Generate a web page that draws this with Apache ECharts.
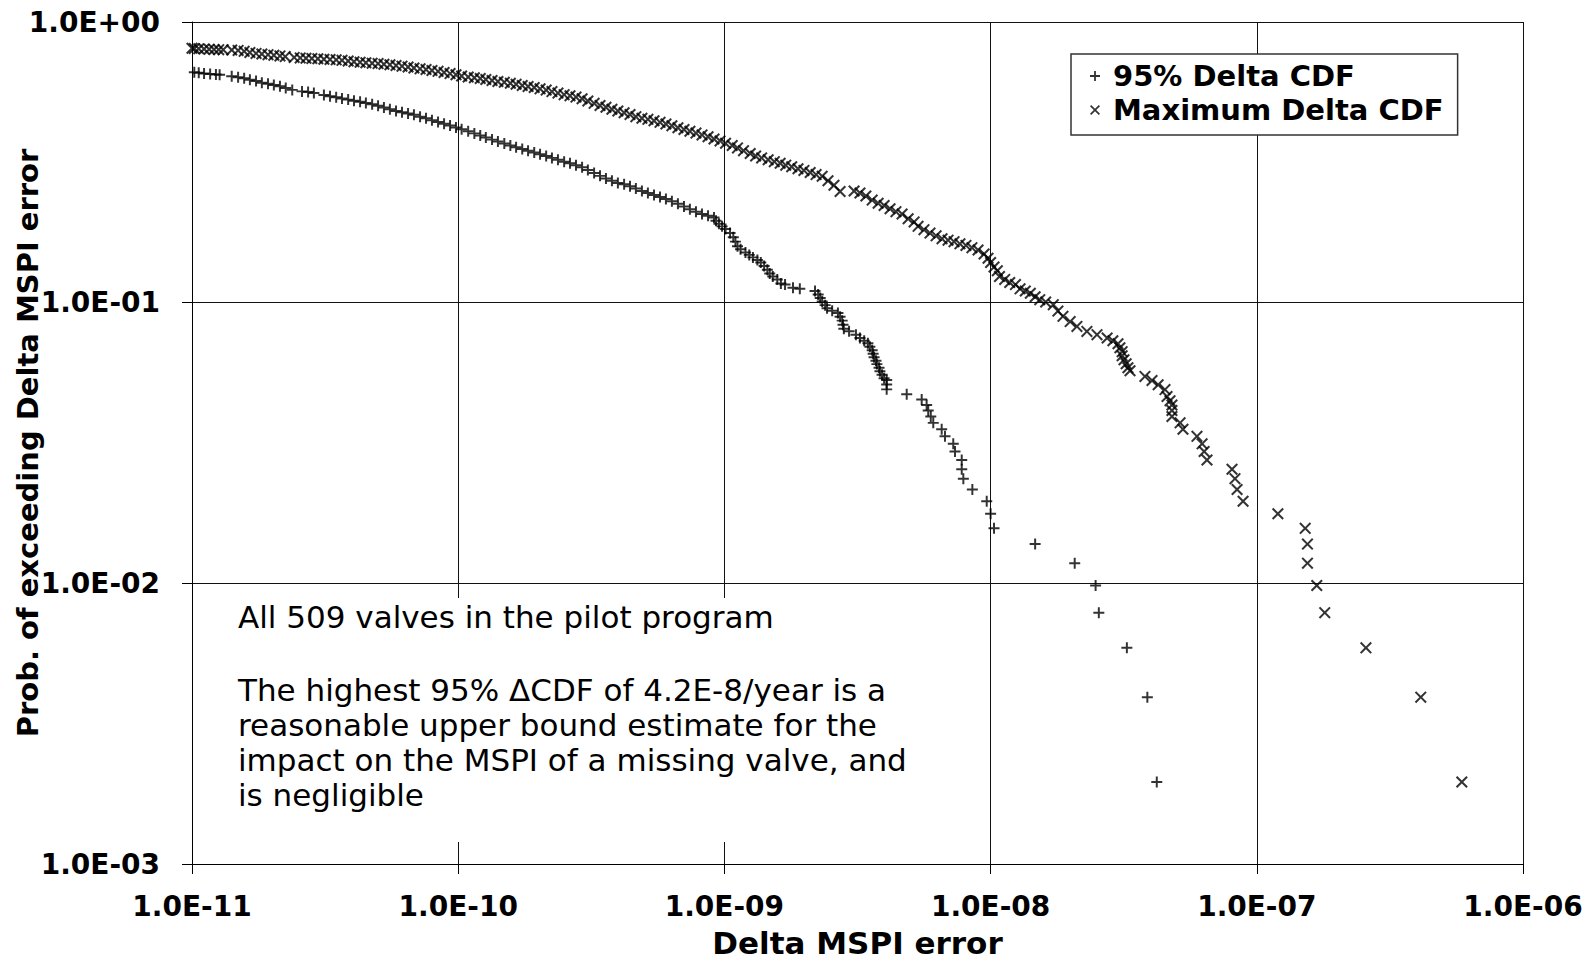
<!DOCTYPE html>
<html>
<head>
<meta charset="utf-8">
<script src="https://cdn.jsdelivr.net/npm/echarts@6/dist/echarts.min.js"></script>
<style>
html,body{margin:0;padding:0;background:#fff;}
#chart{width:1589px;height:961px;}
</style>
</head>
<body>
<div id="chart"></div>
<script>
// ---------- data ----------
const seriesNames = ['95% Delta CDF', 'Maximum Delta CDF'];

// [Delta MSPI error, probability of exceeding]
const delta95 = [
 [1.02e-11,0.662],[1.06e-11,0.660],[1.11e-11,0.656],[1.17e-11,0.653],[1.23e-11,0.650],[1.27e-11,0.649],
 [1.41e-11,0.641],[1.49e-11,0.636],[1.57e-11,0.630],[1.65e-11,0.623],[1.74e-11,0.616],[1.83e-11,0.608],
 [1.93e-11,0.602],[2.03e-11,0.596],[2.14e-11,0.590],[2.25e-11,0.582],[2.38e-11,0.573],
 [2.59e-11,0.566],[2.73e-11,0.563],[2.87e-11,0.559],
 [3.13e-11,0.549],[3.30e-11,0.544],[3.48e-11,0.539],[3.66e-11,0.534],[3.86e-11,0.529],
 [4.06e-11,0.524],[4.28e-11,0.520],[4.50e-11,0.515],[4.75e-11,0.509],[5.00e-11,0.503],[5.26e-11,0.496],
 [5.54e-11,0.489],[5.84e-11,0.482],[6.15e-11,0.477],[6.48e-11,0.472],[6.82e-11,0.467],[7.19e-11,0.460],
 [7.57e-11,0.454],[7.97e-11,0.447],[8.40e-11,0.440],[8.85e-11,0.434],[9.32e-11,0.428],[9.81e-11,0.421],
 [1.03e-10,0.415],[1.09e-10,0.408],[1.15e-10,0.401],[1.21e-10,0.394],[1.27e-10,0.388],[1.34e-10,0.381],
 [1.41e-10,0.375],[1.49e-10,0.369],[1.57e-10,0.363],[1.65e-10,0.358],[1.74e-10,0.353],[1.83e-10,0.348],
 [1.93e-10,0.343],[2.03e-10,0.338],[2.14e-10,0.333],[2.25e-10,0.328],[2.37e-10,0.323],[2.50e-10,0.318],
 [2.63e-10,0.314],[2.77e-10,0.309],[2.92e-10,0.304],[3.07e-10,0.297],[3.24e-10,0.290],[3.41e-10,0.283],
 [3.59e-10,0.277],[3.78e-10,0.272],[3.98e-10,0.267],[4.20e-10,0.264],[4.42e-10,0.260],[4.65e-10,0.255],
 [4.90e-10,0.250],[5.16e-10,0.246],[5.44e-10,0.242],[5.73e-10,0.238],[6.03e-10,0.234],[6.35e-10,0.230],
 [6.69e-10,0.225],[7.05e-10,0.220],[7.42e-10,0.215],[7.82e-10,0.211],[8.24e-10,0.207],[8.68e-10,0.204],
 [9.14e-10,0.201],
 [9.30e-10,0.196],[9.54e-10,0.191],[9.80e-10,0.187],[1.01e-9,0.183],[1.05e-9,0.177],[1.08e-9,0.171],
 [1.10e-9,0.165],[1.12e-9,0.159],[1.15e-9,0.155],[1.20e-9,0.151],[1.24e-9,0.148],[1.28e-9,0.145],
 [1.33e-9,0.142],[1.37e-9,0.139],[1.41e-9,0.135],[1.45e-9,0.131],[1.48e-9,0.127],[1.52e-9,0.124],
 [1.58e-9,0.121],[1.63e-9,0.117],[1.69e-9,0.116],[1.81e-9,0.113],[1.92e-9,0.112],[2.19e-9,0.110],
 [2.25e-9,0.107],[2.29e-9,0.104],[2.33e-9,0.101],[2.39e-9,0.098],[2.43e-9,0.0956],[2.54e-9,0.0936],
 [2.67e-9,0.0919],[2.72e-9,0.0891],[2.77e-9,0.0863],[2.79e-9,0.0835],[2.81e-9,0.0808],[2.94e-9,0.0791],
 [3.12e-9,0.0769],[3.23e-9,0.0748],[3.35e-9,0.0732],[3.46e-9,0.0717],[3.52e-9,0.0697],[3.59e-9,0.0677],
 [3.62e-9,0.0658],[3.65e-9,0.0639],[3.71e-9,0.0621],[3.74e-9,0.0604],[3.81e-9,0.0586],[3.84e-9,0.0570],
 [3.91e-9,0.0554],[3.98e-9,0.0538],
 [4.07e-9,0.0530],[4.07e-9,0.0511],[4.07e-9,0.0491],[4.84e-9,0.0472],[5.51e-9,0.0452],[5.75e-9,0.0432],
 [5.83e-9,0.0413],[5.96e-9,0.0393],[6.09e-9,0.0373],[6.55e-9,0.0354],[6.74e-9,0.0334],[7.24e-9,0.0314],
 [7.35e-9,0.0295],[7.79e-9,0.0275],[7.79e-9,0.0255],[7.90e-9,0.0236],[8.54e-9,0.0216],[9.67e-9,0.0196],
 [1.00e-8,0.0177],[1.03e-8,0.0157],[1.47e-8,0.0138],[2.07e-8,0.0118],[2.48e-8,0.00982],[2.55e-8,0.00786],
 [3.25e-8,0.00589],[3.88e-8,0.00393],[4.21e-8,0.00196]
];

const deltaMax = [
 [1.00e-11,0.806],[1.02e-11,0.805],[1.06e-11,0.803],[1.11e-11,0.801],[1.16e-11,0.800],[1.21e-11,0.798],
 [1.26e-11,0.797],[1.31e-11,0.796],
 [1.41e-11,0.795],[1.49e-11,0.792],[1.57e-11,0.786],[1.65e-11,0.779],[1.74e-11,0.773],[1.83e-11,0.769],
 [1.93e-11,0.765],[2.03e-11,0.761],[2.14e-11,0.757],[2.24e-11,0.753],
 [2.42e-11,0.748],[2.55e-11,0.745],[2.68e-11,0.743],
 [2.82e-11,0.741],[2.97e-11,0.740],[3.13e-11,0.737],[3.30e-11,0.735],[3.48e-11,0.733],[3.66e-11,0.730],
 [3.86e-11,0.726],[4.06e-11,0.722],[4.28e-11,0.719],[4.50e-11,0.716],[4.75e-11,0.713],[5.00e-11,0.711],
 [5.26e-11,0.707],[5.54e-11,0.704],[5.84e-11,0.700],[6.15e-11,0.696],[6.48e-11,0.691],[6.82e-11,0.686],
 [7.19e-11,0.681],[7.57e-11,0.677],[7.97e-11,0.672],[8.40e-11,0.667],[8.85e-11,0.661],[9.32e-11,0.655],
 [9.81e-11,0.649],[1.03e-10,0.642],[1.09e-10,0.637],[1.15e-10,0.633],[1.21e-10,0.629],[1.27e-10,0.624],
 [1.34e-10,0.619],[1.41e-10,0.614],[1.49e-10,0.610],[1.57e-10,0.605],[1.65e-10,0.600],[1.74e-10,0.594],
 [1.83e-10,0.589],[1.93e-10,0.584],[2.03e-10,0.578],[2.14e-10,0.572],[2.25e-10,0.565],[2.37e-10,0.558],
 [2.50e-10,0.551],[2.63e-10,0.546],[2.77e-10,0.540],[2.92e-10,0.533],[3.07e-10,0.523],[3.24e-10,0.513],
 [3.41e-10,0.504],[3.59e-10,0.497],[3.78e-10,0.489],[3.98e-10,0.482],[4.20e-10,0.475],[4.42e-10,0.468],
 [4.65e-10,0.460],[4.90e-10,0.454],[5.16e-10,0.450],[5.44e-10,0.445],[5.73e-10,0.439],[6.03e-10,0.433],
 [6.35e-10,0.427],[6.69e-10,0.420],[7.05e-10,0.414],[7.42e-10,0.408],[7.82e-10,0.402],[8.24e-10,0.396],
 [8.68e-10,0.390],[9.14e-10,0.383],[9.63e-10,0.377],[1.01e-9,0.370],[1.07e-9,0.363],[1.12e-9,0.356],
 [1.18e-9,0.348],[1.25e-9,0.340],[1.31e-9,0.333],[1.38e-9,0.328],[1.46e-9,0.323],[1.54e-9,0.318],
 [1.62e-9,0.314],[1.70e-9,0.309],[1.79e-9,0.305],[1.89e-9,0.300],[1.99e-9,0.296],[2.10e-9,0.291],
 [2.21e-9,0.286],[2.33e-9,0.282],[2.45e-9,0.272],[2.58e-9,0.262],[2.72e-9,0.249],
 [3.07e-9,0.250],[3.23e-9,0.246],[3.40e-9,0.240],[3.59e-9,0.232],[3.78e-9,0.226],[3.98e-9,0.222],
 [4.19e-9,0.216],[4.41e-9,0.211],[4.65e-9,0.207],[4.90e-9,0.199],[5.16e-9,0.194],[5.34e-9,0.187],
 [5.62e-9,0.182],[5.92e-9,0.177],[6.24e-9,0.173],[6.57e-9,0.169],[6.92e-9,0.167],[7.29e-9,0.165],
 [7.67e-9,0.162],[8.08e-9,0.160],[8.51e-9,0.157],[8.97e-9,0.154],[9.45e-9,0.149],[9.78e-9,0.144],
 [1.00e-8,0.139],[1.03e-8,0.134],[1.06e-8,0.130],[1.08e-8,0.124],[1.13e-8,0.121],[1.18e-8,0.118],
 [1.24e-8,0.116],[1.29e-8,0.112],[1.35e-8,0.110],[1.41e-8,0.108],[1.47e-8,0.105],[1.53e-8,0.1025],
 [1.61e-8,0.1006],[1.72e-8,0.0984],[1.79e-8,0.0933],[1.87e-8,0.0894],
 [1.99e-8,0.0856],[2.11e-8,0.0823],[2.30e-8,0.0790],[2.51e-8,0.0769],[2.74e-8,0.0748],[2.88e-8,0.0732],
 [3.01e-8,0.0714],[3.06e-8,0.0691],[3.12e-8,0.0669],[3.12e-8,0.0647],[3.17e-8,0.0626],[3.23e-8,0.0606],
 [3.28e-8,0.0586],[3.34e-8,0.0572],[3.80e-8,0.0546],[4.04e-8,0.0528],[4.26e-8,0.0510],[4.52e-8,0.0490],
 [4.60e-8,0.0463],[4.72e-8,0.0447],[4.80e-8,0.0432],[4.80e-8,0.0413],[4.80e-8,0.0393],[5.15e-8,0.0373],
 [5.28e-8,0.0354],[5.96e-8,0.0334],[6.23e-8,0.0314],[6.34e-8,0.0295],[6.50e-8,0.0275],[8.07e-8,0.0255],
 [8.28e-8,0.0236],[8.43e-8,0.0216],[8.88e-8,0.0196],[1.20e-7,0.0177],[1.52e-7,0.0157],[1.55e-7,0.0138],
 [1.55e-7,0.0118],[1.68e-7,0.00982],[1.80e-7,0.00786],[2.57e-7,0.00589],[4.13e-7,0.00393],[5.89e-7,0.00196]
];

const xTickLabels = ['1.0E-11','1.0E-10','1.0E-09','1.0E-08','1.0E-07','1.0E-06'];
const yTickLabels = ['1.0E-03','1.0E-02','1.0E-01','1.0E+00'];
const xTitle = 'Delta MSPI error';
const yTitle = 'Prob. of exceeding Delta MSPI error';
const noteFirst = 'All 509 valves in the pilot program';
const noteLines = [
 'The highest 95% \u0394CDF of 4.2E-8/year is a',
 'reasonable upper bound estimate for the',
 'impact on the MSPI of a missing valve, and',
 'is negligible'
];

// ---------- styling ----------
const FONT = "'DejaVu Sans', 'Liberation Sans', sans-serif";
const PLUS = 'path://M4.1,0H5.9V4.1H10V5.9H5.9V10H4.1V5.9H0V4.1H4.1Z';
const CROSS = 'path://M0,1.2L1.2,0L5,3.8L8.8,0L10,1.2L6.2,5L10,8.8L8.8,10L5,6.2L1.2,10L0,8.8L3.8,5Z';

const chart = echarts.init(document.getElementById('chart'), null, {renderer: 'svg', width: 1589, height: 961});

function axisCommon() {
  return {
    type: 'log', logBase: 10,
    nameMoveOverlap: false,
    axisLine: {show: true, onZero: false, lineStyle: {color: '#000', width: 1}},
    axisTick: {show: true, inside: false, length: 10, lineStyle: {color: '#000', width: 1}},
    minorTick: {show: false},
    splitLine: {show: true, lineStyle: {color: '#111', width: 1}},
    minorSplitLine: {show: false}
  };
}

const noteStyle = {fontFamily: FONT, fontSize: 31, fill: '#000', align: 'left', verticalAlign: 'middle', textAlign: 'left', textVerticalAlign: 'middle'};
const noteGraphics = [
  {type: 'rect', silent: true, z: 1, shape: {x: 226, y: 598, width: 714, height: 244}, style: {fill: '#fff'}},
  {type: 'text', silent: true, z: 2, x: 238, y: 617, style: Object.assign({text: noteFirst}, noteStyle)}
];
noteLines.forEach(function (t, i) {
  noteGraphics.push({type: 'text', silent: true, z: 2, x: 238, y: 690 + i * 35,
    style: Object.assign({text: t}, noteStyle)});
});

const option = {
  backgroundColor: '#fff',
  animation: false,
  grid: {left: 192, right: 66, top: 22, bottom: 97, containLabel: false, outerBoundsMode: 'none'},
  legend: {
    orient: 'vertical', left: 1071, top: 54,
    padding: [7, 14, 10, 19],
    itemWidth: 10, itemHeight: 10, itemGap: 4,
    borderColor: '#333', borderWidth: 1.5, backgroundColor: '#fff', borderRadius: 0,
    textStyle: {fontFamily: FONT, fontWeight: 'bold', fontSize: 29, color: '#000', lineHeight: 30, padding: [0, 0, 0, 8]},
    data: seriesNames,
    selectedMode: false
  },
  xAxis: Object.assign(axisCommon(), {
    min: 1e-11, max: 1e-6,
    name: xTitle, nameLocation: 'middle', nameGap: 63,
    nameTextStyle: {fontFamily: FONT, fontWeight: 'bold', fontSize: 31, color: '#000'},
    axisLabel: {
      show: true, margin: 28, color: '#000', fontFamily: FONT, fontWeight: 'bold', fontSize: 28,
      showMinLabel: true, showMaxLabel: true,
      formatter: function (v) { return xTickLabels[Math.round(Math.log10(v)) + 11]; }
    }
  }),
  yAxis: Object.assign(axisCommon(), {
    min: 1e-3, max: 1,
    name: yTitle, nameLocation: 'middle', nameGap: 150, nameRotate: 90,
    nameTextStyle: {fontFamily: FONT, fontWeight: 'bold', fontSize: 29, color: '#000'},
    axisLabel: {
      show: true, margin: 32, color: '#000', fontFamily: FONT, fontWeight: 'bold', fontSize: 28,
      showMinLabel: true, showMaxLabel: true,
      formatter: function (v) { return yTickLabels[Math.round(Math.log10(v)) + 3]; }
    }
  }),
  graphic: noteGraphics,
  series: [
    {type: 'scatter', name: seriesNames[0], data: delta95, symbol: PLUS, symbolSize: 11,
     itemStyle: {color: '#000'}, emphasis: {disabled: true}, clip: true, z: 3},
    {type: 'scatter', name: seriesNames[1], data: deltaMax, symbol: CROSS, symbolSize: 12,
     itemStyle: {color: '#000'}, emphasis: {disabled: true}, clip: true, z: 3}
  ]
};
chart.setOption(option);
</script>
</body>
</html>
